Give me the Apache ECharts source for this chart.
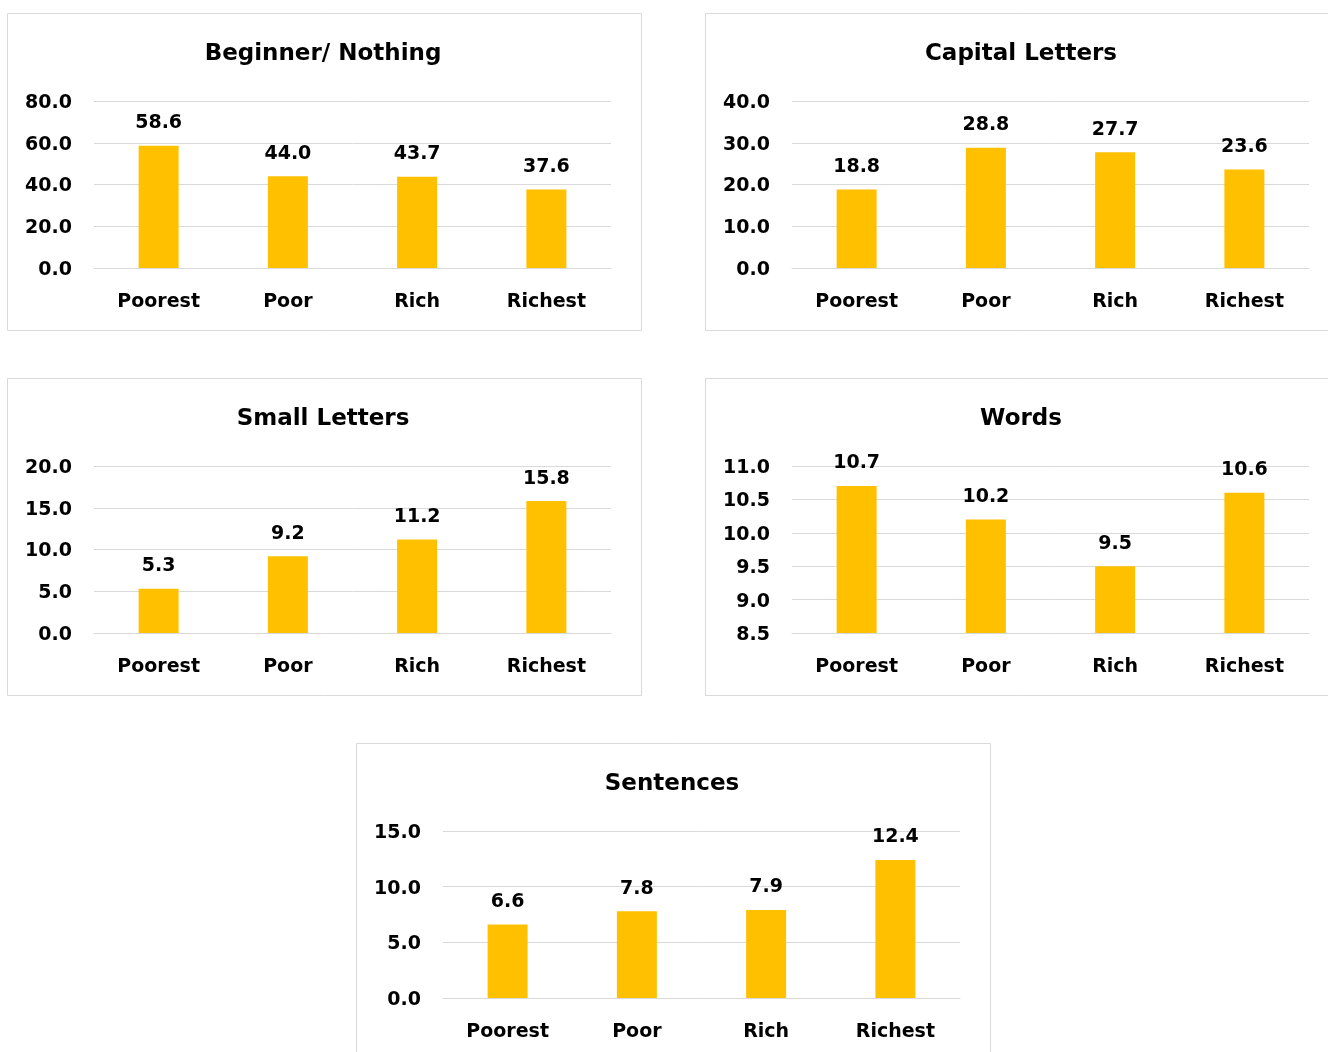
<!DOCTYPE html>
<html>
<head>
<meta charset="utf-8">
<script src="https://cdn.jsdelivr.net/npm/echarts@6/dist/echarts.min.js"></script>
<style>
  html, body { margin: 0; padding: 0; background: #fff; }
  #chart { width: 1328px; height: 1052px; }
</style>
</head>
<body>
<div id="chart"></div>
<script>
// data
const categories = ['Poorest', 'Poor', 'Rich', 'Richest'];
const panelTitles = ['Beginner/ Nothing', 'Capital Letters', 'Small Letters', 'Words', 'Sentences'];
const beginnerValues = [58.6, 44.0, 43.7, 37.6];
const capitalValues = [18.8, 28.8, 27.7, 23.6];
const smallValues = [5.3, 9.2, 11.2, 15.8];
const wordsValues = [10.7, 10.2, 9.5, 10.6];
const sentencesValues = [6.6, 7.8, 7.9, 12.4];
// axis ranges [min, max, interval]
const axisRanges = [[0, 80, 20], [0, 40, 10], [0, 20, 5], [8.5, 11, 0.5], [0, 15, 5]];
const allValues = [beginnerValues, capitalValues, smallValues, wordsValues, sentencesValues];

// panel boxes: [left, top, width, height] of the border
const boxes = [
    [7, 13, 634, 317],
    [705, 13, 640, 317],
    [7, 378, 634, 317],
    [705, 378, 640, 317],
    [356, 743, 634, 320]
];

const FONT = '"DejaVu Sans", sans-serif';
const chart = echarts.init(document.getElementById('chart'));

const grids = [], xAxes = [], yAxes = [], series = [], graphics = [];

boxes.forEach((b, i) => {
    const [bx, by, bw] = b;
    const plotLeft = bx + 87;
    const plotTop = by + 88;
    graphics.push({
        type: 'rect',
        shape: { x: bx + 0.5, y: by + 0.5, width: b[2], height: b[3] },
        style: { fill: 'none', stroke: '#d9d9d9', lineWidth: 1 },
        silent: true
    });
    // panel title
    graphics.push({
        type: 'text',
        x: bx + 316,
        y: by + 41,
        style: {
            text: panelTitles[i],
            align: 'center',
            verticalAlign: 'middle',
            font: 'bold 23px ' + FONT,
            fill: '#000'
        },
        silent: true
    });
    grids.push({ left: plotLeft, top: plotTop, width: 517, height: 167 });
    xAxes.push({
        type: 'category',
        gridIndex: i,
        data: categories,
        axisLine: { lineStyle: { color: '#d9d9d9', width: 1 } },
        axisTick: { show: false },
        axisLabel: { margin: 25, fontFamily: FONT, fontSize: 19, fontWeight: 'bold', color: '#000' }
    });
    const [mn, mx, iv] = axisRanges[i];
    yAxes.push({
        type: 'value',
        gridIndex: i,
        min: mn, max: mx, interval: iv,
        axisLine: { show: false },
        axisTick: { show: false },
        splitLine: { lineStyle: { color: '#d9d9d9', width: 1 } },
        axisLabel: {
            margin: 22,
            formatter: v => '{t|' + v.toFixed(1) + '}',
            rich: {
                t: {
                    fontFamily: FONT, fontSize: 19, fontWeight: 'bold', color: '#000',
                    padding: [4, 0, 0, 0]
                }
            }
        }
    });
    series.push({
        type: 'bar',
        xAxisIndex: i,
        yAxisIndex: i,
        data: allValues[i],
        barWidth: 40,
        itemStyle: { color: '#FFC000' },
        label: {
            show: true,
            position: 'top',
            distance: 13,
            fontFamily: FONT, fontSize: 19, fontWeight: 'bold', color: '#000',
            formatter: p => p.value.toFixed(1)
        },
        silent: true
    });
});

chart.setOption({
    backgroundColor: '#fff',
    animation: false,
    grid: grids,
    xAxis: xAxes,
    yAxis: yAxes,
    series: series,
    graphic: graphics
});
</script>
</body>
</html>
